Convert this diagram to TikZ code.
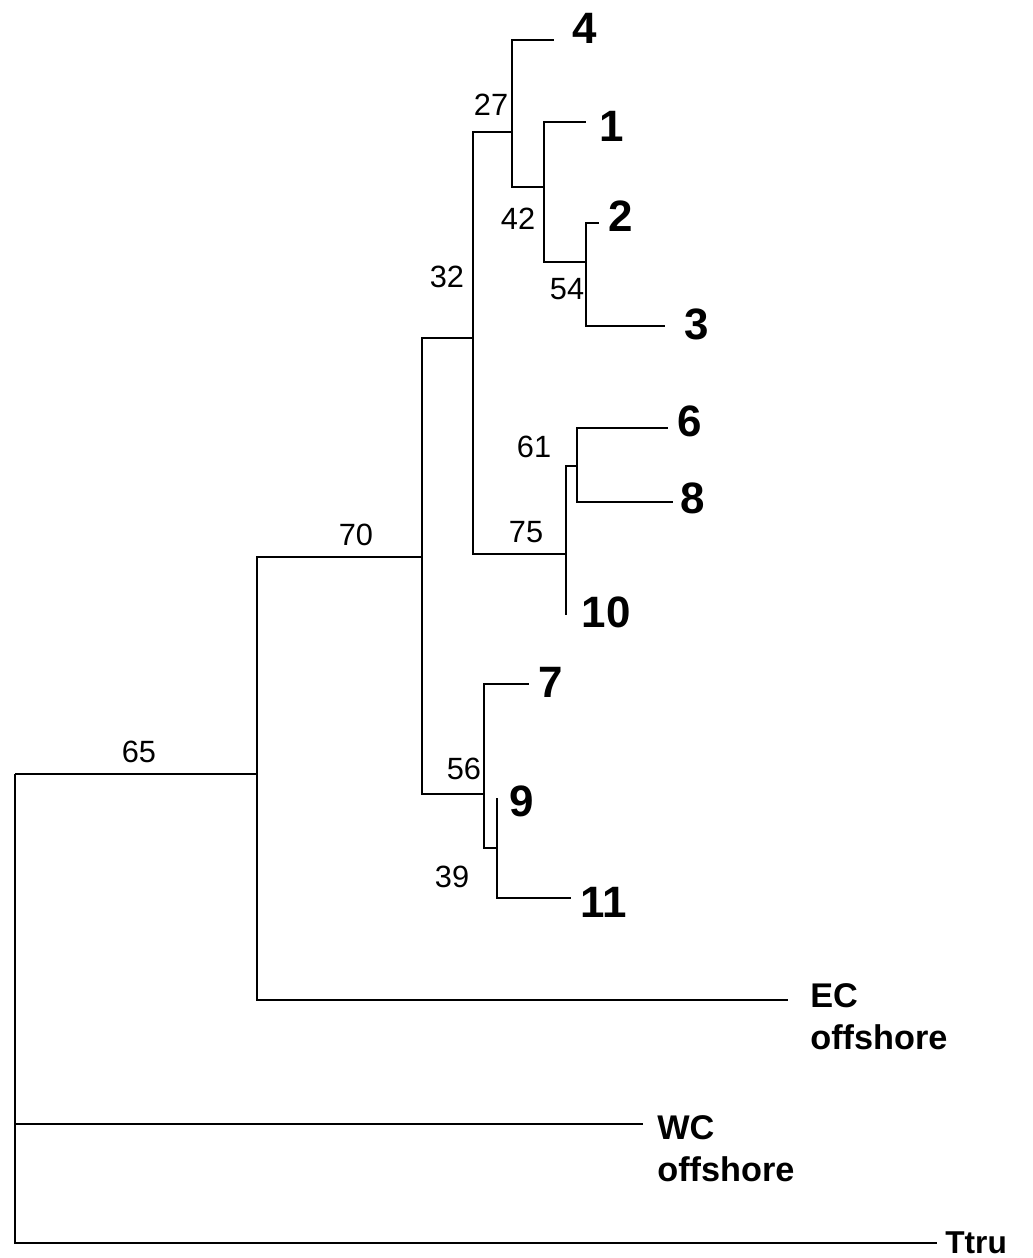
\documentclass[tikz,border=0pt]{standalone}
\usepackage{fontspec}
\setmainfont{Liberation Sans}
\begin{document}
\begin{tikzpicture}[x=0.02cm,y=-0.02cm,
  branch/.style={line width=0.9pt},
  tip/.style={font=\bfseries\fontsize{25}{30}\selectfont,inner sep=0pt},
  boot/.style={font=\fontsize{17.5}{21}\selectfont,inner sep=0pt},
  taxon/.style={font=\bfseries\fontsize{19.5}{24}\selectfont,inner sep=0pt,align=left,anchor=north west}]
\useasboundingbox (0,0) rectangle (1032,1258);
\coordinate (root) at (15,774);
\coordinate (n65) at (257,774);
\coordinate (n70) at (422,557);
\coordinate (n32) at (473,338);
\coordinate (n27) at (512,132);
\coordinate (n42) at (544,187);
\coordinate (n54) at (586,262);
\coordinate (n75) at (566,554);
\coordinate (n61) at (577,466);
\coordinate (n56) at (484,794);
\coordinate (n39) at (497,848);
\coordinate (t4) at (554,40);
\coordinate (t1) at (586,122);
\coordinate (t2) at (599,223);
\coordinate (t3) at (665,326);
\coordinate (t6) at (668,428);
\coordinate (t8) at (673,502);
\coordinate (t10) at (566,615);
\coordinate (t7) at (529,684);
\coordinate (t9) at (497,798);
\coordinate (t11) at (571,898);
\coordinate (tec) at (788,1000);
\coordinate (twc) at (643,1124);
\coordinate (tttru) at (937,1243);
\draw[branch] (root) |- (n65);
\draw[branch] (root) |- (twc);
\draw[branch] (root) |- (tttru);
\draw[branch] (n65) |- (n70);
\draw[branch] (n65) |- (tec);
\draw[branch] (n70) |- (n32);
\draw[branch] (n70) |- (n56);
\draw[branch] (n32) |- (n27);
\draw[branch] (n32) |- (n75);
\draw[branch] (n27) |- (t4);
\draw[branch] (n27) |- (n42);
\draw[branch] (n42) |- (t1);
\draw[branch] (n42) |- (n54);
\draw[branch] (n54) |- (t2);
\draw[branch] (n54) |- (t3);
\draw[branch] (n75) |- (n61);
\draw[branch] (n75) -- (t10);
\draw[branch] (n61) |- (t6);
\draw[branch] (n61) |- (t8);
\draw[branch] (n56) |- (t7);
\draw[branch] (n56) |- (n39);
\draw[branch] (n39) -- (t9);
\draw[branch] (n39) |- (t11);
\node[tip] (l4) at (585,28) {4};
\node[tip] (l1) at (612,126) {1};
\node[tip] (l2) at (621,216) {2};
\node[tip] (l3) at (697,324) {3};
\node[tip] (l6) at (690,421) {6};
\node[tip] (l8) at (693,498) {8};
\node[tip] (l10) at (606,612) {10};
\node[tip] (l7) at (551,682) {7};
\node[tip] (l9) at (522,801) {9};
\node[tip] (l11) at (604,902) {11};
\node[boot] (b27) at (491,105) {27};
\node[boot] (b42) at (518,219) {42};
\node[boot] (b54) at (567,289) {54};
\node[boot] (b32) at (447,277) {32};
\node[boot] (b61) at (534,447) {61};
\node[boot] (b75) at (526,532) {75};
\node[boot] (b70) at (356,535) {70};
\node[boot] (b56) at (464,769) {56};
\node[boot] (b39) at (452,877) {39};
\node[boot] (b65) at (139,752) {65};
\node[taxon] (ec) at (810,983) {EC\\offshore};
\node[taxon] (wc) at (657,1115) {WC\\offshore};
\node[taxon,anchor=base west,font=\bfseries\fontsize{18}{22}\selectfont] (ttru) at (945,1253) {Ttru};
\end{tikzpicture}
\end{document}
